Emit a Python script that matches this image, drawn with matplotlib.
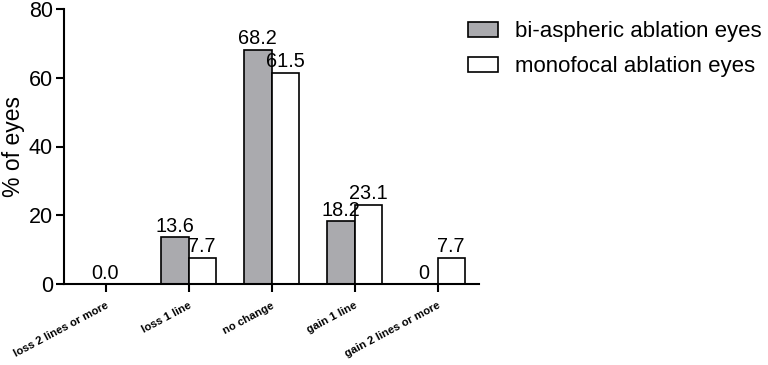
import matplotlib
matplotlib.use("Agg")
import matplotlib.pyplot as plt
import matplotlib.patches as mpatches
import numpy as np

plt.rcParams['font.family'] = ['Liberation Sans', 'DejaVu Sans']

# Data
categories = ["loss 2 lines or more", "loss 1 line", "no change",
              "gain 1 line", "gain 2 lines or more"]
bi_values = [0.0, 13.6, 68.2, 18.2, 0.0]
mono_values = [0.0, 7.7, 61.5, 23.1, 7.7]
bi_labels = ["", "13.6", "68.2", "18.2", "0"]
mono_labels = ["", "7.7", "61.5", "23.1", "7.7"]
center_labels = ["0.0", "", "", "", ""]
series_names = ["bi-aspheric ablation eyes", "monofocal ablation eyes"]

fig = plt.figure(figsize=(7.68, 3.65), dpi=100)
ax = fig.add_axes([64 / 768, 1 - 284 / 365, (479 - 64) / 768, (284 - 9) / 365])

x = np.arange(len(categories))
w = 0.33
gray = '#aaaaae'

bars_bi = ax.bar(x - w / 2, bi_values, w, color=gray, edgecolor='black', linewidth=1.2)
bars_mono = ax.bar(x + w / 2, mono_values, w, color='white', edgecolor='black', linewidth=1.2)

# hide zero-height bars (only the outline would show)
for b, v in zip(list(bars_bi) + list(bars_mono), bi_values + mono_values):
    if v == 0:
        b.set_visible(False)

ax.bar_label(bars_bi, labels=bi_labels, padding=1, fontsize=14.3)
ax.bar_label(bars_mono, labels=mono_labels, padding=1, fontsize=14.3)
for xi, lab in zip(x, center_labels):
    if lab:
        ax.annotate(lab, (xi, 0), xytext=(0, 1), textcoords='offset points',
                    ha='center', va='bottom', fontsize=14.3)

ax.set_xlim(-0.5, 4.5)
ax.set_ylim(0, 80)
ax.set_yticks([0, 20, 40, 60, 80])
ax.set_xticks(x)
ax.set_xticklabels(categories, rotation=28, ha='right', rotation_mode='anchor',
                   fontsize=8.1, fontweight='bold')
ax.tick_params(axis='y', labelsize=15.5, width=1.5, length=6, pad=2)
ax.tick_params(axis='x', width=1.5, length=6, pad=6)
ax.set_ylabel("% of eyes", fontsize=16.5, labelpad=3)

for s in ['top', 'right']:
    ax.spines[s].set_visible(False)
for s in ['left', 'bottom']:
    ax.spines[s].set_linewidth(1.5)

handles = [mpatches.Patch(facecolor=gray, edgecolor='black', linewidth=1.2),
           mpatches.Patch(facecolor='white', edgecolor='black', linewidth=1.2)]
fig.legend(handles, series_names, loc='upper left',
           bbox_to_anchor=(468 / 768, 1 - 21 / 365), frameon=False,
           fontsize=16, handlelength=1.35, handleheight=0.68,
           handletextpad=0.75, labelspacing=0.63, borderpad=0, borderaxespad=0)

fig.savefig("out.png", dpi=100)
